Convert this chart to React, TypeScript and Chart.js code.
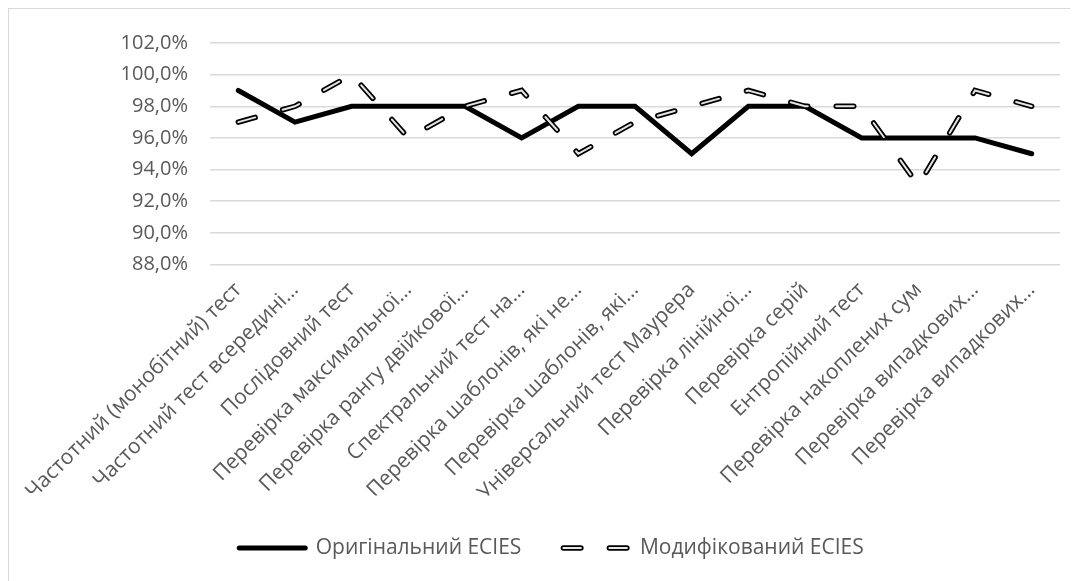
import React, { useEffect, useRef } from "react";
import { Chart, registerables } from "chart.js";

Chart.register(...registerables);

const categories = [
  "Частотний (монобітний) тест",
  "Частотний тест всередині…",
  "Послідовний тест",
  "Перевірка максимальної…",
  "Перевірка рангу двійкової…",
  "Спектральний тест на…",
  "Перевірка шаблонів, які не…",
  "Перевірка шаблонів, які…",
  "Універсальний тест Маурера",
  "Перевірка лінійної…",
  "Перевірка серій",
  "Ентропійний тест",
  "Перевірка накоплених сум",
  "Перевірка випадкових…",
  "Перевірка випадкових…",
];

const originalValues = [99, 97, 98, 98, 98, 96, 98, 98, 95, 98, 98, 96, 96, 96, 95];
const modifiedValues = [97, 98, 100, 96, 98, 99, 95, 97, 98, 99, 98, 98, 93, 99, 98];

const seriesNames = ["Оригінальний ECIES", "Модифікований ECIES"];

const yMin = 88;
const yMax = 102;
const yStep = 2;

const FONT = "'Open Sans', 'Noto Sans', sans-serif";
const TEXT = "#595959";
const GRID = "#d9d9d9";
const DASH = [17.5, 28.5];
const INNER = "#e4e4e4";
const Y_FONT = 20;
const X_FONT = 21;
const LEGEND_FONT = 21;
const LEGEND_BOX = 66;
const LEGEND_SHIFT = 17;

export default function App() {
  const ref = useRef<HTMLCanvasElement | null>(null);

  useEffect(() => {
    if (!ref.current) return;
    const innerLegend = {
      id: "innerLegend",
      afterLayout(chart: any) {
        const legend = chart.legend;
        if (legend) {
          legend.left += LEGEND_SHIFT;
          legend.right += LEGEND_SHIFT;
        }
      },
      afterDraw(chart: any) {
        const legend = chart.legend;
        if (!legend || !legend.legendHitBoxes || !legend.legendHitBoxes[1]) return;
        const hb = legend.legendHitBoxes[1];
        const ctx = chart.ctx;
        const cy = hb.top + LEGEND_FONT / 2;
        ctx.save();
        ctx.strokeStyle = INNER;
        ctx.lineWidth = 2;
        ctx.lineCap = "round";
        ctx.setLineDash(DASH);
        ctx.beginPath();
        ctx.moveTo(hb.left, cy);
        ctx.lineTo(hb.left + LEGEND_BOX, cy);
        ctx.stroke();
        ctx.restore();
      },
    };

    const chart = new Chart(ref.current, {
      type: "line",
      data: {
        labels: categories,
        datasets: [
          {
            label: seriesNames[0],
            data: originalValues,
            borderColor: "#000000",
            backgroundColor: "#000000",
            borderWidth: 5,
            borderCapStyle: "round",
            borderJoinStyle: "miter",
            pointRadius: 0,
            tension: 0,
            order: 3,
          },
          {
            label: seriesNames[1],
            data: modifiedValues,
            borderColor: "#000000",
            backgroundColor: "#000000",
            borderWidth: 5.5,
            borderDash: DASH,
            borderCapStyle: "round",
            borderJoinStyle: "miter",
            pointRadius: 0,
            tension: 0,
            order: 2,
          },
          {
            label: "inner",
            data: modifiedValues,
            borderColor: INNER,
            backgroundColor: INNER,
            borderWidth: 2,
            borderDash: DASH,
            borderCapStyle: "round",
            borderJoinStyle: "miter",
            pointRadius: 0,
            tension: 0,
            order: 1,
          },
        ],
      },
      options: {
        responsive: false,
        animation: false,
        layout: { padding: { top: 27.5, left: 0, right: 9, bottom: 6.5 } },
        plugins: {
          tooltip: { enabled: false },
          legend: {
            position: "bottom",
            labels: {
              usePointStyle: true,
              pointStyle: "line",
              pointStyleWidth: LEGEND_BOX,
              boxHeight: LEGEND_FONT,
              padding: 42,
              color: TEXT,
              font: { family: FONT, size: LEGEND_FONT },
              generateLabels: (c: any) =>
                [0, 1].map((i) => {
                  const ds = c.data.datasets[i];
                  return {
                    text: ds.label,
                    fillStyle: "rgba(0,0,0,0)",
                    strokeStyle: ds.borderColor,
                    lineWidth: ds.borderWidth,
                    lineDash: ds.borderDash || [],
                    lineDashOffset: 0,
                    lineCap: "round",
                    lineJoin: "round",
                    pointStyle: "line",
                    fontColor: TEXT,
                    hidden: false,
                    datasetIndex: i,
                  };
                }),
            },
          },
        },
        scales: {
          x: {
            offset: true,
            grid: { display: false, drawTicks: false },
            border: { display: false },
            ticks: {
              autoSkip: false,
              maxRotation: 45,
              minRotation: 45,
              padding: 13,
              color: TEXT,
              font: { family: FONT, size: X_FONT },
            },
            afterFit: (scale: any) => {
              scale.height = 231;
            },
          },
          y: {
            min: yMin,
            max: yMax,
            grid: { color: GRID, lineWidth: 1.5, drawTicks: false },
            border: { display: false },
            ticks: {
              stepSize: yStep,
              padding: 22,
              color: TEXT,
              font: { family: FONT, size: Y_FONT },
              callback: (v: any) => Number(v).toFixed(1).replace(".", ",") + "%",
            },
            afterFit: (scale: any) => {
              scale.width = 201;
            },
          },
        },
      },
      plugins: [innerLegend],
    });
    return () => chart.destroy();
  }, []);

  return (
    <div
      style={{
        width: 1061,
        height: 573,
        borderTop: "1px solid #d9d9d9",
        borderLeft: "1px solid #d9d9d9",
        background: "#ffffff",
      }}
    >
      <canvas ref={ref} width={1060} height={566} style={{ display: "block" }} />
    </div>
  );
}
